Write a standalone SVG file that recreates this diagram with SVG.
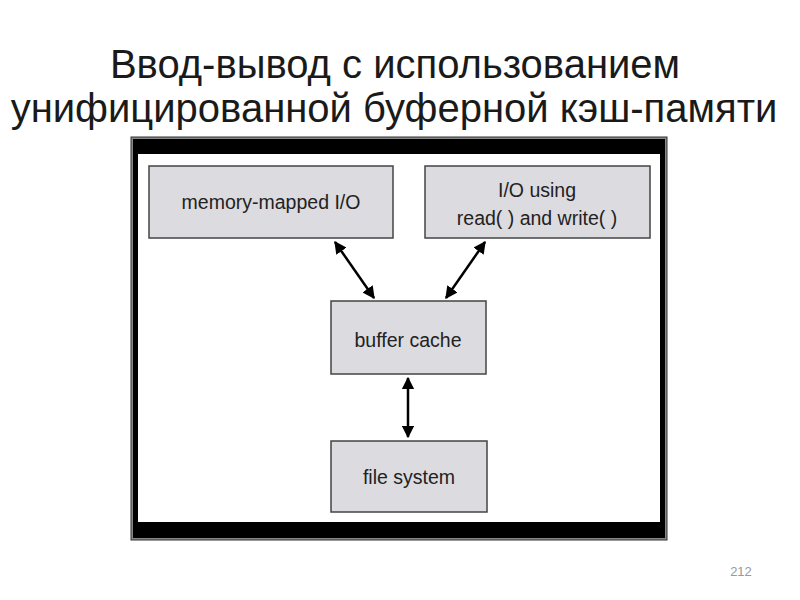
<svg xmlns="http://www.w3.org/2000/svg" width="800" height="600" viewBox="0 0 800 600">
<defs>
<style>
.title{font-family:"Liberation Sans",Arial,sans-serif;font-size:40px;fill:#1a1a1a;text-anchor:middle}
.box{fill:#dcdbdf;stroke:#444;stroke-width:1.5}
.lbl{font-family:"Liberation Sans",Arial,sans-serif;font-size:19.5px;fill:#222;text-anchor:middle}
.conn{stroke:#000;stroke-width:2.5;fill:none;marker-start:url(#ah);marker-end:url(#ah)}
.pg{font-family:"Liberation Sans",Arial,sans-serif;font-size:13px;fill:#999;text-anchor:middle}
</style>
<marker id="ah" viewBox="0 0 10 10" refX="9" refY="5" markerWidth="5" markerHeight="5" orient="auto-start-reverse" markerUnits="strokeWidth">
<path d="M0,0 L10,5 L0,10 z" fill="#000"/>
</marker>
</defs>
<text class="title" x="395" y="78">Ввод-вывод с использованием</text>
<text class="title" x="394" y="122">унифицированной буферной кэш-памяти</text>
<g id="frame">
<rect x="131" y="137" width="536" height="403" fill="#888" stroke="#333" stroke-width="1"/>
<rect x="133" y="139" width="532" height="399" fill="#000"/>
<rect x="138" y="154" width="522" height="368" fill="#fff"/>
</g>
<g id="connectors">
<line class="conn" x1="335" y1="242" x2="374" y2="298"/>
<line class="conn" x1="485" y1="242" x2="446" y2="298"/>
<line class="conn" x1="408" y1="378" x2="408" y2="437"/>
</g>
<g id="mmio">
<rect class="box" x="149" y="166" width="244" height="72"/>
<text class="lbl" x="271" y="209">memory-mapped I/O</text>
</g>
<g id="iousing">
<rect class="box" x="425" y="166" width="225" height="72"/>
<text class="lbl" x="537" y="197">I/O using</text>
<text class="lbl" x="537" y="225">read( ) and write( )</text>
</g>
<g id="buffercache">
<rect class="box" x="331" y="301" width="155" height="73"/>
<text class="lbl" x="408" y="347">buffer cache</text>
</g>
<g id="filesystem">
<rect class="box" x="331" y="441" width="156" height="71"/>
<text class="lbl" x="409" y="484">file system</text>
</g>
<text class="pg" x="741" y="576">212</text>
</svg>
